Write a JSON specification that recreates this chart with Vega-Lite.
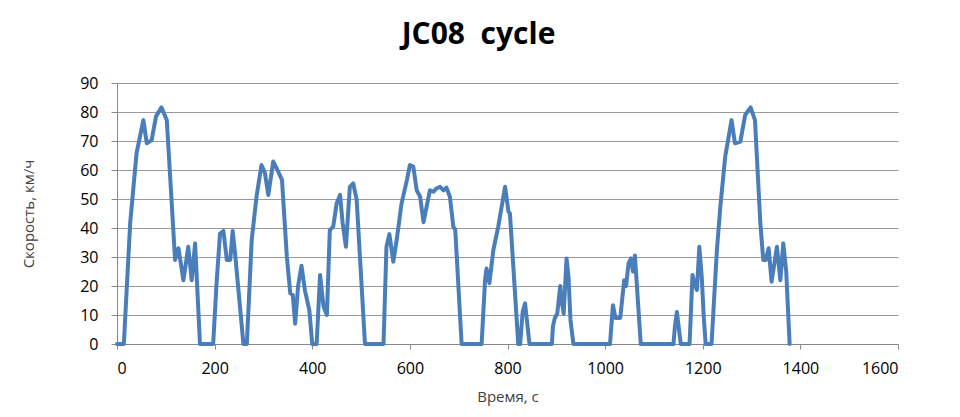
{
  "$schema": "https://vega.github.io/schema/vega-lite/v6.json",
  "autosize": {"type": "none"},
  "width": 781,
  "height": 261,
  "padding": {"left": 117, "top": 83, "right": 62, "bottom": 73},
  "background": "white",
  "title": {"text": "JC08\u00a0\u00a0cycle", "fontSize": 30, "font": "Open Sans", "fontWeight": "bold", "color": "#000000", "offset": 25, "dx": -29},
  "data": {"values": [
    {"t": 0, "v": 0}, {"t": 14, "v": 0}, {"t": 27, "v": 41.7}, {"t": 40, "v": 65.7}, {"t": 54, "v": 77.2},
    {"t": 61, "v": 69.2}, {"t": 71, "v": 70.3}, {"t": 80, "v": 78.5}, {"t": 91, "v": 81.6}, {"t": 102, "v": 77.2},
    {"t": 119, "v": 29}, {"t": 126, "v": 33}, {"t": 136, "v": 22}, {"t": 146, "v": 33.5}, {"t": 153, "v": 22},
    {"t": 160, "v": 34.7}, {"t": 170, "v": 0}, {"t": 197, "v": 0}, {"t": 204, "v": 21}, {"t": 211, "v": 38},
    {"t": 218, "v": 39}, {"t": 225, "v": 29}, {"t": 232, "v": 29}, {"t": 237, "v": 39}, {"t": 242, "v": 31},
    {"t": 259, "v": 0}, {"t": 266, "v": 0}, {"t": 276, "v": 36}, {"t": 286, "v": 51}, {"t": 296, "v": 61.7},
    {"t": 303, "v": 59}, {"t": 310, "v": 51.4}, {"t": 320, "v": 62.9}, {"t": 327, "v": 60.6}, {"t": 338, "v": 56.6},
    {"t": 348, "v": 30}, {"t": 355, "v": 17.5}, {"t": 360, "v": 17}, {"t": 365, "v": 7}, {"t": 371, "v": 20},
    {"t": 378, "v": 27}, {"t": 385, "v": 18.5}, {"t": 394, "v": 11.7}, {"t": 400, "v": 0}, {"t": 409, "v": 0},
    {"t": 416, "v": 23.8}, {"t": 423, "v": 13}, {"t": 430, "v": 10}, {"t": 436, "v": 39.3}, {"t": 443, "v": 40.5},
    {"t": 450, "v": 48.5}, {"t": 457, "v": 51.4}, {"t": 462, "v": 42}, {"t": 469, "v": 33.5}, {"t": 477, "v": 54.2},
    {"t": 484, "v": 55.4}, {"t": 491, "v": 49.7}, {"t": 508, "v": 0}, {"t": 546, "v": 0}, {"t": 552, "v": 33.5},
    {"t": 558, "v": 37.9}, {"t": 566, "v": 28.4}, {"t": 573, "v": 35.9}, {"t": 583, "v": 48.5}, {"t": 594, "v": 56.6},
    {"t": 600, "v": 61.7}, {"t": 607, "v": 61.2}, {"t": 614, "v": 53}, {"t": 621, "v": 50.8}, {"t": 628, "v": 42},
    {"t": 641, "v": 53}, {"t": 648, "v": 52.5}, {"t": 655, "v": 53.7}, {"t": 662, "v": 54.2}, {"t": 669, "v": 53},
    {"t": 675, "v": 53.9}, {"t": 682, "v": 50.8}, {"t": 689, "v": 40.5}, {"t": 693, "v": 39.3}, {"t": 706, "v": 0},
    {"t": 747, "v": 0}, {"t": 754, "v": 22}, {"t": 757, "v": 26}, {"t": 763, "v": 21}, {"t": 771, "v": 32.4},
    {"t": 781, "v": 40.5}, {"t": 788, "v": 47.3}, {"t": 795, "v": 54.2}, {"t": 802, "v": 45.6}, {"t": 805, "v": 45},
    {"t": 822, "v": 0}, {"t": 826, "v": 0}, {"t": 831, "v": 11}, {"t": 836, "v": 14}, {"t": 845, "v": 0},
    {"t": 891, "v": 0}, {"t": 893, "v": 6}, {"t": 897, "v": 9}, {"t": 902, "v": 10.5}, {"t": 908, "v": 20},
    {"t": 911, "v": 15}, {"t": 915, "v": 10.5}, {"t": 921, "v": 29.5}, {"t": 925, "v": 23}, {"t": 929, "v": 8.3},
    {"t": 935, "v": 0}, {"t": 1010, "v": 0}, {"t": 1016, "v": 13.4}, {"t": 1021, "v": 9}, {"t": 1031, "v": 9},
    {"t": 1039, "v": 22}, {"t": 1043, "v": 20}, {"t": 1048, "v": 27.8}, {"t": 1053, "v": 29.5}, {"t": 1057, "v": 25},
    {"t": 1061, "v": 30.5}, {"t": 1073, "v": 0}, {"t": 1140, "v": 0}, {"t": 1143, "v": 6}, {"t": 1147, "v": 11},
    {"t": 1155, "v": 0}, {"t": 1173, "v": 0}, {"t": 1179, "v": 23.8}, {"t": 1183, "v": 21}, {"t": 1188, "v": 18.6},
    {"t": 1193, "v": 33.5}, {"t": 1198, "v": 23}, {"t": 1202, "v": 9.4}, {"t": 1206, "v": 0}, {"t": 1218, "v": 0},
    {"t": 1229, "v": 32.4}, {"t": 1236, "v": 47.3}, {"t": 1246, "v": 64.6}, {"t": 1259, "v": 77.2}, {"t": 1266, "v": 69.2},
    {"t": 1277, "v": 69.8}, {"t": 1287, "v": 79}, {"t": 1298, "v": 81.6}, {"t": 1307, "v": 77.2}, {"t": 1318, "v": 41.6},
    {"t": 1324, "v": 29}, {"t": 1329, "v": 29}, {"t": 1335, "v": 33}, {"t": 1341, "v": 21.5}, {"t": 1352, "v": 33.5},
    {"t": 1359, "v": 22}, {"t": 1365, "v": 34.7}, {"t": 1371, "v": 25}, {"t": 1378, "v": 0}
  ]},
  "mark": {"type": "line", "color": "#4A7EBB", "strokeWidth": 4, "strokeJoin": "round", "strokeCap": "round"},
  "encoding": {
    "x": {"field": "t", "type": "quantitative",
      "scale": {"domain": [0, 1600], "nice": false},
      "axis": {"values": [0, 200, 400, 600, 800, 1000, 1200, 1400, 1600], "format": "d", "grid": false, "title": "Время, с",
        "titleFont": "Open Sans", "titleFontSize": 15, "titleFontWeight": "normal", "titleColor": "#404040", "titlePadding": 13,
        "labelFont": "Open Sans", "labelFontSize": 16, "labelColor": "#000000", "labelPadding": 11,
        "domainColor": "#888888", "tickColor": "#888888", "tickSize": 5}},
    "y": {"field": "v", "type": "quantitative",
      "scale": {"domain": [0, 90], "nice": false},
      "axis": {"values": [0, 10, 20, 30, 40, 50, 60, 70, 80, 90], "grid": true, "gridColor": "#999999", "gridWidth": 1.2,
        "title": "Скорость, км/ч", "titleFont": "Open Sans", "titleFontSize": 15, "titleFontWeight": "normal", "titleColor": "#404040", "titlePadding": 43,
        "labelFont": "Open Sans", "labelFontSize": 16, "labelColor": "#000000", "labelPadding": 13,
        "domainColor": "#888888", "tickColor": "#888888", "tickSize": 6}}
  },
  "config": {"view": {"stroke": null}}
}
